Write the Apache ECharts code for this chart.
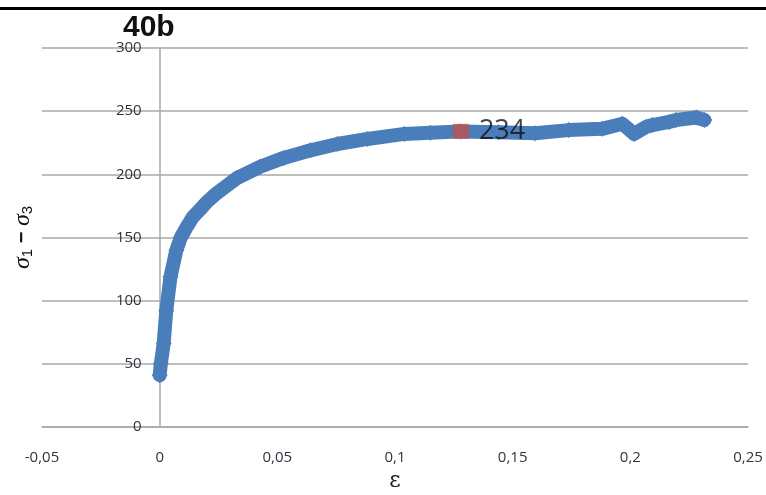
<!DOCTYPE html>
<html>
<head>
<meta charset="utf-8">
<script src="https://cdn.jsdelivr.net/npm/echarts@6/dist/echarts.min.js"></script>
<style>
  html, body { margin: 0; padding: 0; background: #fff; }
  #chart { width: 766px; height: 495px; }
</style>
</head>
<body>
<div id="chart"></div>
<script>
// strain / deviator stress curve
const strainX = [0, 0.0005, 0.0017, 0.0028, 0.0046, 0.0071, 0.009, 0.0114, 0.014, 0.0171,
  0.020, 0.0242, 0.0328, 0.0427, 0.0527, 0.0641, 0.0755, 0.0883, 0.104, 0.115,
  0.128, 0.144, 0.1595, 0.1738, 0.188, 0.1966, 0.2016, 0.2066, 0.2094, 0.2165,
  0.2194, 0.228, 0.2315];
const stressY = [41, 50, 66, 92, 119, 140, 150, 158, 166, 172,
  178, 185, 197, 206, 213, 219, 224, 228, 232, 233,
  234, 233.3, 232.5, 235, 236, 240, 232, 237.5, 239, 241.5,
  243, 245, 243];

// highlighted peak point
const peakX = [0.128];
const peakY = [234];

const xTicks = { min: -0.05, max: 0.25, step: 0.05 };
const yTicks = { min: 0, max: 300, step: 50 };

const curve = strainX.map((x, i) => [x, stressY[i]]);
const peak = peakX.map((x, i) => [x, peakY[i]]);

const gridColor = '#a8a8a8';
const gridLeft = 42;
const gridRight = 18;
const chart = echarts.init(document.getElementById('chart'));

// the y axis sits on x = 0, so shift it right from the grid's left edge
const plotWidth = 766 - gridLeft - gridRight;
const yAxisShift = plotWidth * (0 - xTicks.min) / (xTicks.max - xTicks.min);

chart.setOption({
  animation: false,
  title: {
    text: '40b',
    left: 118,
    top: 8,
    textStyle: { fontFamily: 'Liberation Sans', fontWeight: 'bold', fontSize: 30, color: '#111' },
  },
  grid: { left: gridLeft, right: gridRight, top: 48, bottom: 68, containLabel: false, outerBoundsMode: 'none' },
  xAxis: {
    type: 'value',
    min: xTicks.min,
    max: xTicks.max,
    interval: xTicks.step,
    name: 'ε',
    nameLocation: 'middle',
    nameGap: 38,
    nameTextStyle: { fontFamily: 'DejaVu Serif', fontSize: 22, color: '#222' },
    axisLine: { lineStyle: { color: gridColor, width: 1.5 } },
    axisTick: { show: false },
    splitLine: { show: false },
    axisLabel: {
      margin: 23,
      fontFamily: 'Open Sans',
      fontSize: 15,
      color: '#333340',
      formatter: (v) => String(Number(v.toFixed(2))).replace('.', ','),
    },
  },
  yAxis: {
    type: 'value',
    min: yTicks.min,
    max: yTicks.max,
    interval: yTicks.step,
    offset: -yAxisShift,
    name: '{s|σ}{n|1}{m| − }{s|σ}{n|3}',
    nameLocation: 'middle',
    nameGap: 124,
    nameTextStyle: {
      rich: {
        s: { fontFamily: 'Liberation Serif', fontStyle: 'italic', fontSize: 24, color: '#111', lineHeight: 26 },
        n: { fontFamily: 'Liberation Sans', fontSize: 15, color: '#111', verticalAlign: 'bottom', lineHeight: 16 },
        m: { fontFamily: 'Liberation Sans', fontWeight: 'bold', fontSize: 20, color: '#111', lineHeight: 26 },
      },
    },
    axisLine: { show: true, onZero: false, lineStyle: { color: gridColor, width: 1.5 } },
    axisTick: { show: false },
    splitLine: { lineStyle: { color: gridColor, width: 1.5 } },
    axisLabel: {
      margin: 18,
      fontFamily: 'Open Sans',
      fontSize: 15,
      color: '#333340',
    },
  },
  series: [
    {
      type: 'line',
      data: curve,
      symbol: 'diamond',
      symbolSize: 16,
      showAllSymbol: true,
      itemStyle: { color: '#4a7ebb' },
      lineStyle: { color: '#4a7ebb', width: 14, join: 'round', cap: 'round' },
      z: 2,
    },
    {
      type: 'scatter',
      data: peak,
      symbol: 'rect',
      symbolSize: [16, 15],
      itemStyle: { color: '#c0504d' },
      label: {
        show: true,
        position: 'right',
        distance: 10,
        formatter: (p) => String(p.value[1]),
        fontFamily: 'Open Sans',
        fontSize: 27,
        color: '#111',
      },
      z: 3,
    },
  ],
  graphic: [
    {
      type: 'rect',
      left: 0,
      top: 7,
      shape: { width: 766, height: 3 },
      style: { fill: '#000' },
    },
  ],
});
</script>
</body>
</html>
